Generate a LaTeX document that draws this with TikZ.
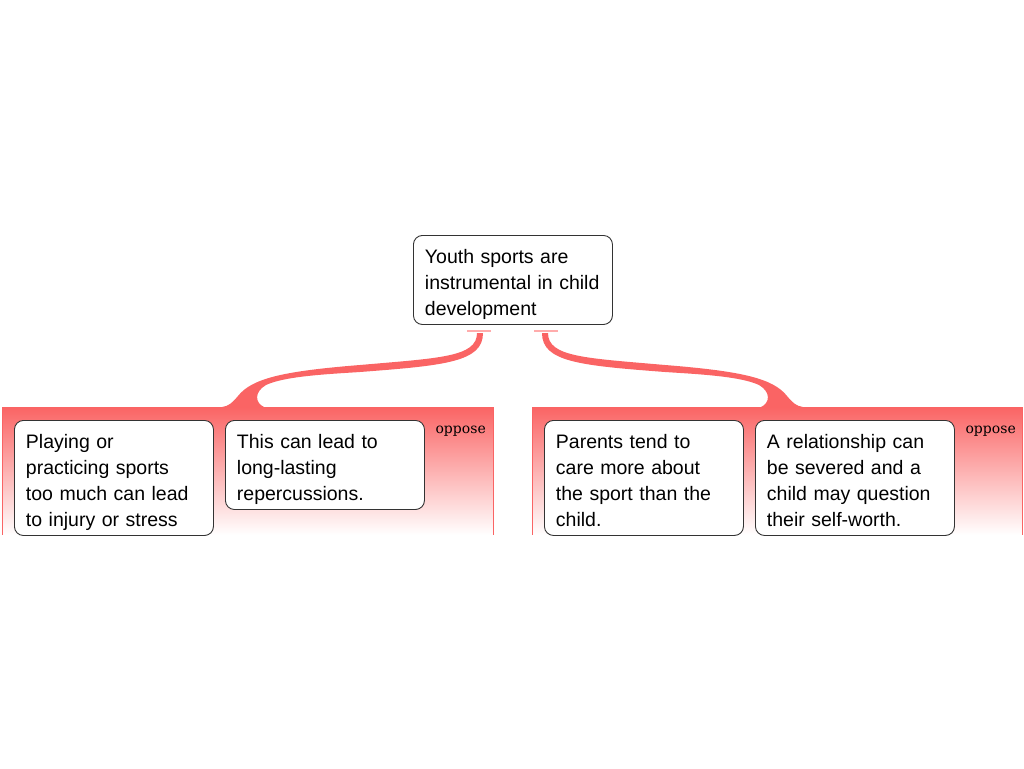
\documentclass[tikz,border=0pt]{standalone}
\usepackage{fontspec}
\setmainfont{Liberation Sans}
\newfontfamily\tagfont{DejaVu Serif}
\definecolor{linkred}{RGB}{250,100,100}
\definecolor{barpink}{RGB}{255,172,172}
\definecolor{boxgray}{RGB}{51,51,51}
\tikzset{
  idea/.style={draw=boxgray, fill=white, rounded corners=9pt, line width=0.9pt,
    anchor=north west, text width=176pt, inner xsep=11.5pt, inner ysep=5pt,
    align=left, font=\fontsize{19.5}{26}\selectfont,
    execute at begin node=\rule{0pt}{23pt},
    execute at end node=\rule[-4pt]{0pt}{4pt}},
  band/.style={top color=linkred, bottom color=white},
  tag/.style={anchor=base east, inner sep=0pt, font=\tagfont\fontsize{14}{16}\selectfont},
}
\begin{document}
\begin{tikzpicture}[x=1pt,y=-1pt]
\useasboundingbox (0,0) rectangle (1024,768);
%\draw[help lines, gray, step=50] (0,0) grid (1024,768);
\shade[band] (2,407) rectangle (493,535);
\shade[band] (532,407) rectangle (1022,535);
\draw[linkred] (2,407) -- (2,535);
\draw[linkred] (493,407) -- (493,535);
\draw[linkred] (532,407) -- (532,535);
\draw[linkred] (1022,407) -- (1022,535);
\draw[barpink, line width=1.5pt] (467,331) -- (491,331);
\draw[barpink, line width=1.5pt] (534,331) -- (558,331);
\fill[linkred] (477,333) .. controls (477,357) and (440,358) .. (360,365)
  .. controls (285,371) and (252,378) .. (238,396)
  .. controls (232,403) and (229,406) .. (222,407)
  -- (264,407) .. controls (255,403) and (254,392) .. (266,385)
  .. controls (285,376) and (330,374) .. (360,372)
  .. controls (445,365.5) and (483,362) .. (483,333) -- cycle;
\begin{scope}[shift={(1025,0)}, xscale=-1]
\fill[linkred] (477,333) .. controls (477,357) and (440,358) .. (360,365)
  .. controls (285,371) and (252,378) .. (238,396)
  .. controls (232,403) and (229,406) .. (222,407)
  -- (264,407) .. controls (255,403) and (254,392) .. (266,385)
  .. controls (285,376) and (330,374) .. (360,372)
  .. controls (445,365.5) and (483,362) .. (483,333) -- cycle;
\end{scope}
\node[idea] (root) at (413,235) {Youth sports are\\instrumental in child\\development};
\node[idea] (injury) at (14,420) {Playing or\\practicing sports\\too much can lead\\to injury or stress};
\node[idea] (lasting) at (225,420) {This can lead to\\long-lasting\\repercussions.};
\node[idea] (parents) at (544,420) {Parents tend to\\care more about\\the sport than the\\child.};
\node[idea] (severed) at (755,420) {A relationship can\\be severed and a\\child may question\\their self-worth.};
\node[tag] (ltag) at (486,433.5) {oppose};
\node[tag] (rtag) at (1016,433.5) {oppose};
\end{tikzpicture}
\end{document}
